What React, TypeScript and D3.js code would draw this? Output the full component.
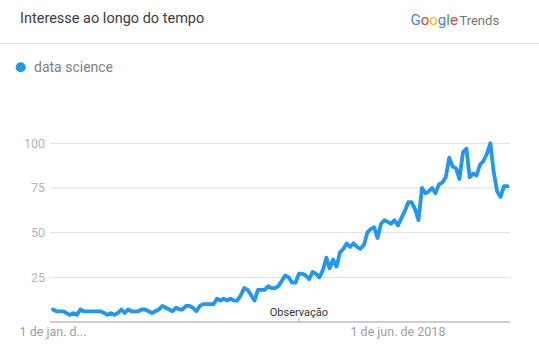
import React from "react";
import * as d3 from "d3";

const W = 539;
const H = 355;

const title = "Interesse ao longo do tempo";
const seriesName = "data science";
const startMonth = new Date(2010, 0, 1);
const values: number[] = [
  7, 6, 6, 6, 5, 4, 5, 4, 7, 6,
  6, 6, 6, 6, 6, 5, 4, 5, 4, 5,
  7, 5, 7, 6, 6, 6, 7, 7, 6, 5,
  6, 7, 9, 8, 7, 6, 8, 7, 7, 9,
  9, 8, 6, 9, 10, 10, 10, 10, 13, 12,
  13, 12, 13, 12, 12, 15, 19, 18, 15, 12,
  18, 18, 18, 20, 19, 19, 20, 23, 26, 25,
  22, 22, 27, 27, 26, 24, 28, 27, 25, 29,
  36, 30, 35, 31, 39, 41, 44, 42, 44, 42,
  41, 43, 50, 52, 53, 47, 55, 57, 56, 55,
  57, 54, 58, 62, 67, 67, 63, 57, 75, 72,
  73, 75, 72, 77, 78, 81, 92, 87, 86, 80,
  95, 97, 81, 83, 82, 88, 90, 94, 100, 84,
  73, 70, 76, 76,
];
const yTicks = [25, 50, 75, 100];
const xTickDates = [new Date(2010, 0, 1), new Date(2018, 5, 1)];
const xTickLabels = ["1 de jan. d...", "1 de jun. de 2018"];
const noteDate = new Date(2016, 0, 1);
const noteLabel = "Observação";
const googleLetters = ["G", "o", "o", "g", "l", "e"];
const googleColors = ["#4285F4", "#EA4335", "#FBBC05", "#4285F4", "#34A853", "#EA4335"];

const dates = values.map((_, i) => d3.timeMonth.offset(startMonth, i));

export default function App() {
  const x = d3
    .scaleTime()
    .domain([dates[0], dates[dates.length - 1]])
    .range([53, 507.5]);
  const y = d3.scaleLinear().domain([0, 100]).range([322, 143.3]);
  const line = d3
    .line<number>()
    .x((_, i) => x(dates[i]))
    .y((d) => y(d))
    .curve(d3.curveLinear);

  const font = "Roboto, 'Noto Sans', Arial, sans-serif";
  const nx = x(noteDate);

  return (
    <svg
      width={W}
      height={H}
      style={{ position: "absolute", left: 0, top: 0, background: "#fff" }}
      fontFamily={font}
    >
      <rect x={0} y={0} width={W} height={H} fill="#fff" />
      <text x={20} y={23} fontSize={14.5} fill="#3c3c3c">
        {title}
      </text>
      <text x={410.5} y={25} fontSize={15}>
        {googleLetters.map((c, i) => (
          <tspan key={i} fill={googleColors[i]}>
            {c}
          </tspan>
        ))}
        <tspan fill="#757575" dx={1.5} fontSize={13}>
          Trends
        </tspan>
      </text>
      <line x1={0} x2={W} y1={43.5} y2={43.5} stroke="#e0e0e0" strokeWidth={1} />
      <circle cx={20.7} cy={67.3} r={5} fill="#2196F3" />
      <text x={34} y={72} fontSize={14} fill="#808080">
        {seriesName}
      </text>

      {yTicks.map((t) => (
        <g key={t}>
          <line x1={50} x2={510} y1={y(t)} y2={y(t)} stroke="#e0e0e0" strokeWidth={1} />
          <text x={45} y={y(t) + 4.5} fontSize={12.5} fill="#b5b5b5" textAnchor="end">
            {t}
          </text>
        </g>
      ))}
      <line x1={50} x2={510} y1={322} y2={322} stroke="#9e9e9e" strokeWidth={1} />
      {xTickDates.map((d, i) => (
        <text key={i} x={x(d)} y={336} fontSize={12.5} fill="#a0a0a0" textAnchor="middle">
          {xTickLabels[i]}
        </text>
      ))}
      <path
        d={line(values) || ""}
        fill="none"
        stroke="#2196F3"
        strokeWidth={3.8}
        strokeLinejoin="round"
        strokeLinecap="round"
      />
      <line x1={nx} x2={nx} y1={318} y2={322} stroke="#9e9e9e" strokeWidth={1} />
      <text x={nx} y={316} fontSize={11} fill="#333" textAnchor="middle">
        {noteLabel}
      </text>
    </svg>
  );
}
